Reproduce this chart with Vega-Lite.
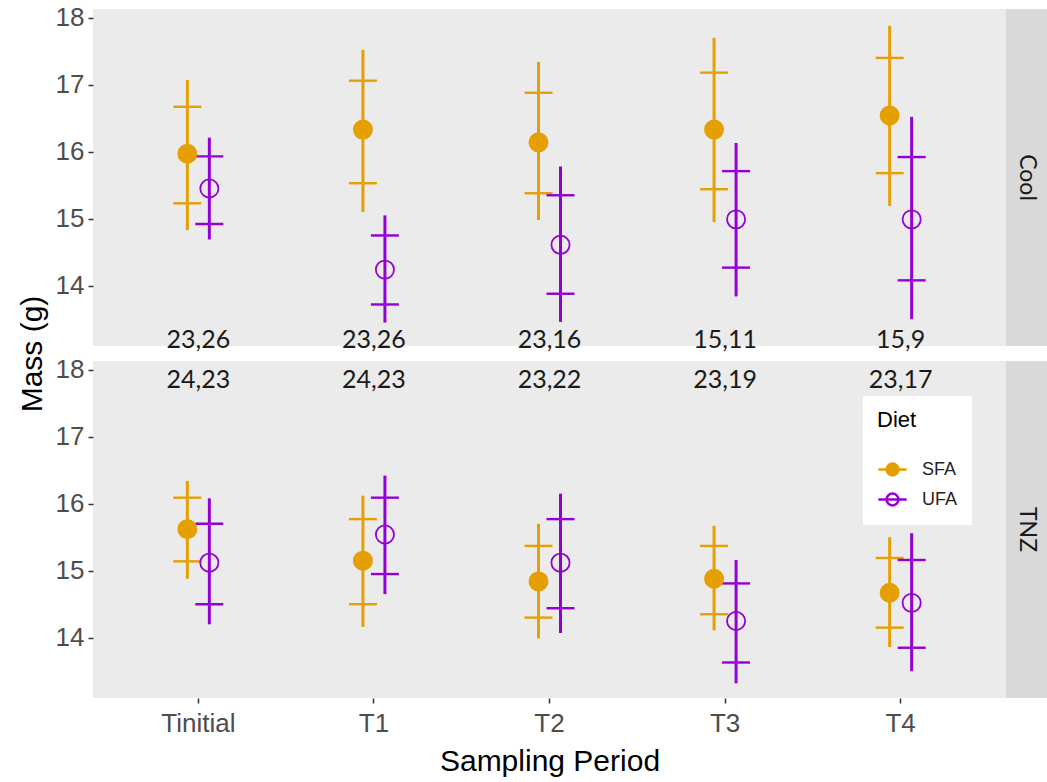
{
  "$schema": "https://vega.github.io/schema/vega-lite/v6.json",
  "background": "white",
  "padding": {"left": 17, "top": 4, "right": 0, "bottom": 4},
  "datasets": {
    "stats": [
      {"Temp": "Cool", "Period": "Tinitial", "Diet": "SFA", "mean": 15.97, "lo": 14.83, "hi": 17.07, "tlo": 15.23, "thi": 16.67},
      {"Temp": "Cool", "Period": "Tinitial", "Diet": "UFA", "mean": 15.45, "lo": 14.69, "hi": 16.21, "tlo": 14.92, "thi": 15.93},
      {"Temp": "Cool", "Period": "T1", "Diet": "SFA", "mean": 16.33, "lo": 15.10, "hi": 17.52, "tlo": 15.53, "thi": 17.06},
      {"Temp": "Cool", "Period": "T1", "Diet": "UFA", "mean": 14.24, "lo": 13.45, "hi": 15.05, "tlo": 13.72, "thi": 14.75},
      {"Temp": "Cool", "Period": "T2", "Diet": "SFA", "mean": 16.14, "lo": 14.98, "hi": 17.34, "tlo": 15.38, "thi": 16.88},
      {"Temp": "Cool", "Period": "T2", "Diet": "UFA", "mean": 14.61, "lo": 13.46, "hi": 15.78, "tlo": 13.88, "thi": 15.35},
      {"Temp": "Cool", "Period": "T3", "Diet": "SFA", "mean": 16.33, "lo": 14.95, "hi": 17.70, "tlo": 15.44, "thi": 17.18},
      {"Temp": "Cool", "Period": "T3", "Diet": "UFA", "mean": 14.99, "lo": 13.84, "hi": 16.13, "tlo": 14.27, "thi": 15.71},
      {"Temp": "Cool", "Period": "T4", "Diet": "SFA", "mean": 16.54, "lo": 15.19, "hi": 17.88, "tlo": 15.68, "thi": 17.40},
      {"Temp": "Cool", "Period": "T4", "Diet": "UFA", "mean": 14.99, "lo": 13.50, "hi": 16.52, "tlo": 14.08, "thi": 15.92},
      {"Temp": "TNZ", "Period": "Tinitial", "Diet": "SFA", "mean": 15.62, "lo": 14.88, "hi": 16.34, "tlo": 15.14, "thi": 16.09},
      {"Temp": "TNZ", "Period": "Tinitial", "Diet": "UFA", "mean": 15.12, "lo": 14.20, "hi": 16.08, "tlo": 14.50, "thi": 15.70},
      {"Temp": "TNZ", "Period": "T1", "Diet": "SFA", "mean": 15.15, "lo": 14.16, "hi": 16.12, "tlo": 14.50, "thi": 15.77},
      {"Temp": "TNZ", "Period": "T1", "Diet": "UFA", "mean": 15.54, "lo": 14.65, "hi": 16.42, "tlo": 14.95, "thi": 16.09},
      {"Temp": "TNZ", "Period": "T2", "Diet": "SFA", "mean": 14.84, "lo": 13.99, "hi": 15.70, "tlo": 14.30, "thi": 15.37},
      {"Temp": "TNZ", "Period": "T2", "Diet": "UFA", "mean": 15.12, "lo": 14.07, "hi": 16.15, "tlo": 14.44, "thi": 15.77},
      {"Temp": "TNZ", "Period": "T3", "Diet": "SFA", "mean": 14.88, "lo": 14.11, "hi": 15.67, "tlo": 14.35, "thi": 15.37},
      {"Temp": "TNZ", "Period": "T3", "Diet": "UFA", "mean": 14.25, "lo": 13.32, "hi": 15.16, "tlo": 13.63, "thi": 14.81},
      {"Temp": "TNZ", "Period": "T4", "Diet": "SFA", "mean": 14.67, "lo": 13.86, "hi": 15.50, "tlo": 14.15, "thi": 15.19},
      {"Temp": "TNZ", "Period": "T4", "Diet": "UFA", "mean": 14.52, "lo": 13.50, "hi": 15.56, "tlo": 13.85, "thi": 15.16}
    ],
    "labels": [
      {"Temp": "Cool", "Period": "Tinitial", "label": "23,26", "y": 13.19},
      {"Temp": "Cool", "Period": "T1", "label": "23,26", "y": 13.19},
      {"Temp": "Cool", "Period": "T2", "label": "23,16", "y": 13.19},
      {"Temp": "Cool", "Period": "T3", "label": "15,11", "y": 13.19},
      {"Temp": "Cool", "Period": "T4", "label": "15,9", "y": 13.19},
      {"Temp": "TNZ", "Period": "Tinitial", "label": "24,23", "y": 17.85},
      {"Temp": "TNZ", "Period": "T1", "label": "24,23", "y": 17.85},
      {"Temp": "TNZ", "Period": "T2", "label": "23,22", "y": 17.85},
      {"Temp": "TNZ", "Period": "T3", "label": "23,19", "y": 17.85},
      {"Temp": "TNZ", "Period": "T4", "label": "23,17", "y": 17.85}
    ]
  },
  "spacing": 0,
  "hconcat": [
    {
      "bounds": "flush",
      "spacing": 15,
      "resolve": {"legend": {"color": "independent", "fill": "independent"}},
      "vconcat": [
        {
          "width": 913,
          "height": 337,
          "view": {"fill": "#EBEBEB", "stroke": null},
          "layer": [
            {
              "data": {"name": "stats"},
              "transform": [{"filter": "datum.Temp === 'Cool'"}],
              "mark": {"type": "rule", "strokeWidth": 3},
              "encoding": {
                "x": {"field": "Period", "type": "nominal", "scale": {"type": "band", "domain": ["Tinitial", "T1", "T2", "T3", "T4"], "paddingInner": 0.7494, "paddingOuter": 0.4747}, "axis": null},
                "xOffset": {"field": "Diet", "type": "nominal", "scale": {"type": "band", "domain": ["SFA", "UFA"], "paddingInner": 0, "paddingOuter": 0}},
                "y": {"field": "lo", "type": "quantitative", "scale": {"domain": [13.1, 18.13], "nice": false, "zero": false}, "title": "Mass (g)", "axis": {"titleY": 344.5, "tickCount": 5}},
                "y2": {"field": "hi"},
                "color": {"field": "Diet", "type": "nominal", "scale": {"domain": ["SFA", "UFA"], "range": ["#E69F00", "#9400D3"]}, "legend": null}
              }
            },
            {
              "data": {"name": "stats"},
              "transform": [{"filter": "datum.Temp === 'Cool'"}],
              "mark": {"type": "tick", "filled": false, "size": 26, "thickness": 0.4, "strokeWidth": 2, "orient": "horizontal", "opacity": 1},
              "encoding": {
                "x": {"field": "Period", "type": "nominal", "scale": {"type": "band", "domain": ["Tinitial", "T1", "T2", "T3", "T4"], "paddingInner": 0.7494, "paddingOuter": 0.4747}, "axis": null},
                "xOffset": {"field": "Diet", "type": "nominal", "scale": {"type": "band", "domain": ["SFA", "UFA"], "paddingInner": 0, "paddingOuter": 0}},
                "y": {"field": "tlo", "type": "quantitative", "title": "Mass (g)"},
                "color": {"field": "Diet", "type": "nominal", "scale": {"domain": ["SFA", "UFA"], "range": ["#E69F00", "#9400D3"]}, "legend": null}
              }
            },
            {
              "data": {"name": "stats"},
              "transform": [{"filter": "datum.Temp === 'Cool'"}],
              "mark": {"type": "tick", "filled": false, "size": 26, "thickness": 0.4, "strokeWidth": 2, "orient": "horizontal", "opacity": 1},
              "encoding": {
                "x": {"field": "Period", "type": "nominal", "scale": {"type": "band", "domain": ["Tinitial", "T1", "T2", "T3", "T4"], "paddingInner": 0.7494, "paddingOuter": 0.4747}, "axis": null},
                "xOffset": {"field": "Diet", "type": "nominal", "scale": {"type": "band", "domain": ["SFA", "UFA"], "paddingInner": 0, "paddingOuter": 0}},
                "y": {"field": "thi", "type": "quantitative", "title": "Mass (g)"},
                "color": {"field": "Diet", "type": "nominal", "scale": {"domain": ["SFA", "UFA"], "range": ["#E69F00", "#9400D3"]}, "legend": null}
              }
            },
            {
              "data": {"name": "stats"},
              "transform": [{"filter": "datum.Temp === 'Cool'"}],
              "mark": {"type": "point", "shape": "circle", "filled": false, "size": 330, "strokeWidth": 1.8, "opacity": 1},
              "encoding": {
                "x": {"field": "Period", "type": "nominal", "scale": {"type": "band", "domain": ["Tinitial", "T1", "T2", "T3", "T4"], "paddingInner": 0.7494, "paddingOuter": 0.4747}, "axis": null},
                "xOffset": {"field": "Diet", "type": "nominal", "scale": {"type": "band", "domain": ["SFA", "UFA"], "paddingInner": 0, "paddingOuter": 0}},
                "y": {"field": "mean", "type": "quantitative", "title": "Mass (g)"},
                "color": {"field": "Diet", "type": "nominal", "scale": {"domain": ["SFA", "UFA"], "range": ["#E69F00", "#9400D3"]}, "legend": null},
                "fill": {"field": "Diet", "type": "nominal", "scale": {"domain": ["SFA", "UFA"], "range": ["#E69F00", "transparent"]}, "legend": null}
              }
            },
            {
              "data": {"name": "labels"},
              "transform": [{"filter": "datum.Temp === 'Cool'"}],
              "mark": {"type": "text", "font": "Lato", "fontSize": 25, "color": "#1A1A1A", "baseline": "middle", "align": "center"},
              "encoding": {
                "x": {"field": "Period", "type": "nominal", "scale": {"type": "band", "domain": ["Tinitial", "T1", "T2", "T3", "T4"], "paddingInner": 0.7494, "paddingOuter": 0.4747}, "axis": null},
                "y": {"field": "y", "type": "quantitative", "title": "Mass (g)"},
                "text": {"field": "label", "type": "nominal"}
              }
            }
          ]
        },
        {
          "width": 913,
          "height": 337,
          "view": {"fill": "#EBEBEB", "stroke": null},
          "layer": [
            {
              "data": {"name": "stats"},
              "transform": [{"filter": "datum.Temp === 'TNZ'"}],
              "mark": {"type": "rule", "strokeWidth": 3},
              "encoding": {
                "x": {"field": "Period", "type": "nominal", "scale": {"type": "band", "domain": ["Tinitial", "T1", "T2", "T3", "T4"], "paddingInner": 0.7494, "paddingOuter": 0.4747}, "title": "Sampling Period"},
                "xOffset": {"field": "Diet", "type": "nominal", "scale": {"type": "band", "domain": ["SFA", "UFA"], "paddingInner": 0, "paddingOuter": 0}},
                "y": {"field": "lo", "type": "quantitative", "scale": {"domain": [13.1, 18.13], "nice": false, "zero": false}, "title": null, "axis": {"tickCount": 5}},
                "y2": {"field": "hi"},
                "color": {"field": "Diet", "type": "nominal", "scale": {"domain": ["SFA", "UFA"], "range": ["#E69F00", "#9400D3"]}, "title": "Diet"}
              }
            },
            {
              "data": {"name": "stats"},
              "transform": [{"filter": "datum.Temp === 'TNZ'"}],
              "mark": {"type": "tick", "filled": false, "size": 26, "thickness": 0.4, "strokeWidth": 2, "orient": "horizontal", "opacity": 1},
              "encoding": {
                "x": {"field": "Period", "type": "nominal", "scale": {"type": "band", "domain": ["Tinitial", "T1", "T2", "T3", "T4"], "paddingInner": 0.7494, "paddingOuter": 0.4747}, "title": "Sampling Period"},
                "xOffset": {"field": "Diet", "type": "nominal", "scale": {"type": "band", "domain": ["SFA", "UFA"], "paddingInner": 0, "paddingOuter": 0}},
                "y": {"field": "tlo", "type": "quantitative", "title": null},
                "color": {"field": "Diet", "type": "nominal", "scale": {"domain": ["SFA", "UFA"], "range": ["#E69F00", "#9400D3"]}, "title": "Diet"}
              }
            },
            {
              "data": {"name": "stats"},
              "transform": [{"filter": "datum.Temp === 'TNZ'"}],
              "mark": {"type": "tick", "filled": false, "size": 26, "thickness": 0.4, "strokeWidth": 2, "orient": "horizontal", "opacity": 1},
              "encoding": {
                "x": {"field": "Period", "type": "nominal", "scale": {"type": "band", "domain": ["Tinitial", "T1", "T2", "T3", "T4"], "paddingInner": 0.7494, "paddingOuter": 0.4747}, "title": "Sampling Period"},
                "xOffset": {"field": "Diet", "type": "nominal", "scale": {"type": "band", "domain": ["SFA", "UFA"], "paddingInner": 0, "paddingOuter": 0}},
                "y": {"field": "thi", "type": "quantitative", "title": null},
                "color": {"field": "Diet", "type": "nominal", "scale": {"domain": ["SFA", "UFA"], "range": ["#E69F00", "#9400D3"]}, "title": "Diet"}
              }
            },
            {
              "data": {"name": "stats"},
              "transform": [{"filter": "datum.Temp === 'TNZ'"}],
              "mark": {"type": "point", "shape": "circle", "filled": false, "size": 330, "strokeWidth": 1.8, "opacity": 1},
              "encoding": {
                "x": {"field": "Period", "type": "nominal", "scale": {"type": "band", "domain": ["Tinitial", "T1", "T2", "T3", "T4"], "paddingInner": 0.7494, "paddingOuter": 0.4747}, "title": "Sampling Period"},
                "xOffset": {"field": "Diet", "type": "nominal", "scale": {"type": "band", "domain": ["SFA", "UFA"], "paddingInner": 0, "paddingOuter": 0}},
                "y": {"field": "mean", "type": "quantitative", "title": null},
                "color": {"field": "Diet", "type": "nominal", "scale": {"domain": ["SFA", "UFA"], "range": ["#E69F00", "#9400D3"]}, "title": "Diet"},
                "fill": {"field": "Diet", "type": "nominal", "scale": {"domain": ["SFA", "UFA"], "range": ["#E69F00", "transparent"]}, "title": "Diet"}
              }
            },
            {
              "data": {"name": "labels"},
              "transform": [{"filter": "datum.Temp === 'TNZ'"}],
              "mark": {"type": "text", "font": "Lato", "fontSize": 25, "color": "#1A1A1A", "baseline": "middle", "align": "center"},
              "encoding": {
                "x": {"field": "Period", "type": "nominal", "scale": {"type": "band", "domain": ["Tinitial", "T1", "T2", "T3", "T4"], "paddingInner": 0.7494, "paddingOuter": 0.4747}, "title": "Sampling Period"},
                "y": {"field": "y", "type": "quantitative", "title": null},
                "text": {"field": "label", "type": "nominal"}
              }
            }
          ]
        }
      ]
    },
    {
      "bounds": "flush",
      "spacing": 15,
      "vconcat": [
        {
          "width": 42,
          "height": 337,
          "view": {"fill": "#D9D9D9", "stroke": null},
          "data": {"values": [{"strip": "Cool"}]},
          "mark": {"type": "text", "angle": 90, "font": "Lato", "fontSize": 23, "color": "#1A1A1A", "align": "center", "baseline": "middle"},
          "encoding": {"text": {"field": "strip", "type": "nominal"}}
        },
        {
          "width": 42,
          "height": 337,
          "view": {"fill": "#D9D9D9", "stroke": null},
          "data": {"values": [{"strip": "TNZ"}]},
          "mark": {"type": "text", "angle": 90, "font": "Lato", "fontSize": 23, "color": "#1A1A1A", "align": "center", "baseline": "middle"},
          "encoding": {"text": {"field": "strip", "type": "nominal"}}
        }
      ]
    }
  ],
  "config": {
    "font": "Liberation Sans",
    "view": {"stroke": null},
    "axis": {
      "grid": false,
      "domain": false,
      "tickColor": "#333333",
      "tickSize": 5,
      "tickWidth": 1.5,
      "labelColor": "#4D4D4D",
      "labelFontSize": 26,
      "labelFont": "Liberation Sans",
      "labelPadding": 4,
      "titleFont": "Liberation Sans",
      "titleFontSize": 30,
      "titleFontWeight": "normal",
      "titleColor": "#000000",
      "titlePadding": 8
    },
    "axisX": {"labelAngle": 0, "labelPadding": 7, "titlePadding": 10},
    "legend": {
      "orient": "none",
      "legendX": 770,
      "legendY": 35,
      "fillColor": "white",
      "padding": 14,
      "titleFont": "Liberation Sans",
      "titleFontSize": 22,
      "titleFontWeight": "normal",
      "titleColor": "#000000",
      "titlePadding": 22,
      "labelFont": "Liberation Sans",
      "labelFontSize": 18,
      "labelColor": "#222222",
      "labelOffset": 14,
      "rowPadding": 3,
      "symbolType": "M-1,0L1,0M0.42,0A0.42,0.42,0,1,1,-0.42,0A0.42,0.42,0,1,1,0.42,0Z",
      "symbolSize": 800,
      "symbolStrokeWidth": 2.5,
      "symbolOpacity": 1
    }
  }
}
